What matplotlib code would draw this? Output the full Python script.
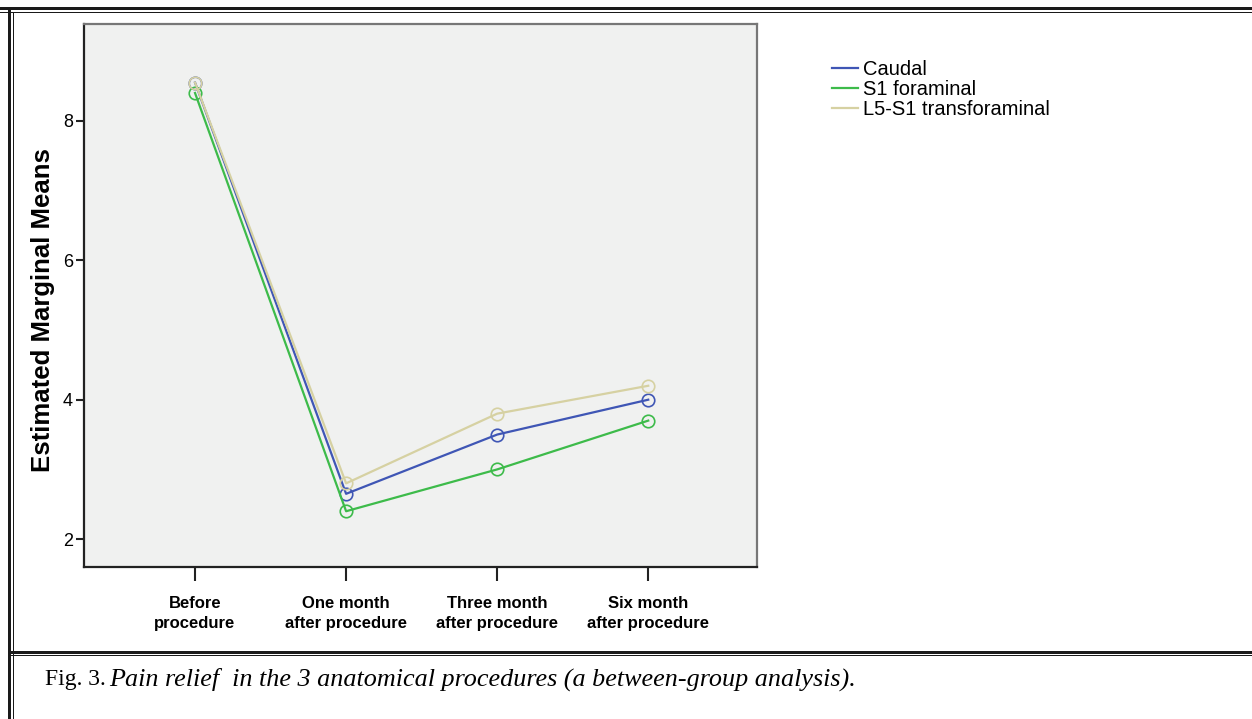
import matplotlib.pyplot as plt
from matplotlib.lines import Line2D

# ---------------- DATA ----------------
stages = ["Before\nprocedure", "One month\nafter procedure",
          "Three month\nafter procedure", "Six month\nafter procedure"]
caudal = [8.55, 2.65, 3.5, 4.0]
s1_foraminal = [8.4, 2.4, 3.0, 3.7]
l5_s1_transforaminal = [8.55, 2.8, 3.8, 4.2]
y_ticks = [2, 4, 6, 8]

plt.rcParams["font.family"] = ["Liberation Sans", "DejaVu Sans"]

W, H = 1252, 719
fig = plt.figure(figsize=(W / 100, H / 100), dpi=100)
fig.patch.set_facecolor("white")


def px(x, y):
    return x / W, 1 - y / H


# axes box (pixel coords: left 84, right 757, top 24, bottom 567)
ax = fig.add_axes([84 / W, 1 - 567 / H, (757 - 84) / W, (567 - 24) / H])
ax.set_facecolor("#f0f1f0")

x = range(len(stages))
series = [
    ("Caudal", caudal, "#3f56b5"),
    ("S1 foraminal", s1_foraminal, "#3dbb4a"),
    ("L5-S1 transforaminal", l5_s1_transforaminal, "#d6d1a2"),
]
for name, vals, col in series:
    ax.plot(x, vals, color=col, linewidth=1.6, marker="o", markersize=9,
            markerfacecolor="none", markeredgewidth=1.2, label=name)

ax.set_xlim(-0.735, 3.72)
ax.set_ylim(1.6, 9.39)
ax.set_xticks(list(x))
ax.set_xticklabels(stages, fontsize=12, fontweight="bold", linespacing=1.4)
ax.set_yticks(y_ticks)
ax.set_yticklabels([str(t) for t in y_ticks], fontsize=13)
ax.tick_params(axis="x", length=10, width=1.5, pad=11, color="#222222")
ax.tick_params(axis="y", length=6, width=1.5, pad=2, color="#222222")
ax.set_ylabel("Estimated Marginal Means", fontsize=18.5, fontweight="bold")
ax.yaxis.set_label_coords(-0.043, 0.473)

for side in ["left", "bottom"]:
    ax.spines[side].set_color("#222222")
    ax.spines[side].set_linewidth(1.6)
for side in ["top", "right"]:
    ax.spines[side].set_color("#777777")
    ax.spines[side].set_linewidth(1.6)

handles = [Line2D([0], [0], color=c, linewidth=1.6) for _, _, c in series]
fig.legend(handles, [s[0] for s in series], loc="upper left",
           bbox_to_anchor=px(824, 52), frameon=False, fontsize=14.5,
           handlelength=1.3, handletextpad=0.25, labelspacing=0.06,
           borderaxespad=0)

# ---------------- FRAME ----------------
frame = [
    ((0, 8), (W, 8), 3.0),
    ((0, 11.5), (W, 11.5), 1.0),
    ((9, 8), (9, H), 3.0),
    ((12.5, 11.5), (12.5, H), 1.0),
    ((9, 651.5), (W, 651.5), 3.0),
    ((9, 655), (W, 655), 1.0),
]
for (x0, y0), (x1, y1), lw in frame:
    (fx0, fy0), (fx1, fy1) = px(x0, y0), px(x1, y1)
    fig.add_artist(Line2D([fx0, fx1], [fy0, fy1], transform=fig.transFigure,
                          color="#1a1a1a", linewidth=lw * 0.72))

# ---------------- CAPTION ----------------
fig.text(*px(45, 679), "Fig. 3.", fontsize=17, family="Liberation Serif",
         va="center", ha="left")
fig.text(*px(109, 679),
         "Pain relief  in the 3 anatomical procedures (a between-group analysis).",
         fontsize=18.8, family="Liberation Serif", style="italic",
         va="center", ha="left")

fig.savefig("out.png", dpi=100)
